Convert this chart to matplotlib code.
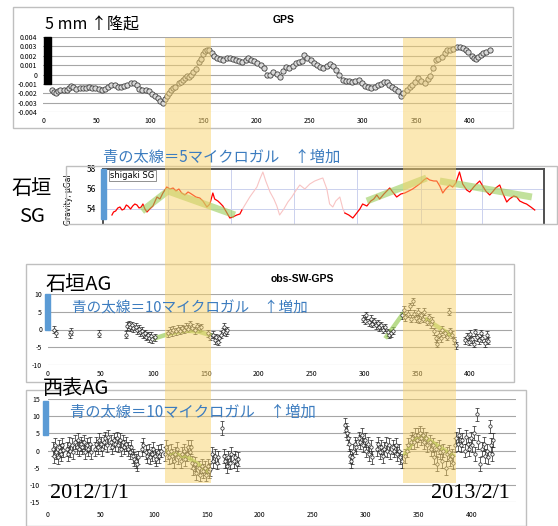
import numpy as np
import matplotlib

matplotlib.use("Agg")
import matplotlib.pyplot as plt  # noqa: E402
from matplotlib import transforms  # noqa: E402
from matplotlib.patches import Rectangle  # noqa: E402

plt.rcParams["font.family"] = ["Noto Sans CJK JP", "DejaVu Sans"]
plt.rcParams["axes.unicode_minus"] = False

# ---- data (x = days since 2012/1/1) ----
gps_day = [8, 10, 12, 14, 16, 19, 22, 24, 26, 28, 31, 34, 37, 40, 43, 46, 49, 52, 55, 58,
           61, 64, 67, 70, 73, 76, 79, 82, 85, 88, 90, 93, 96, 99, 102, 105, 108, 110, 112, 114,
           116, 118, 120, 122, 124, 127, 129, 131, 133, 135, 137, 139, 141, 143, 146, 148, 150, 152, 154, 156,
           158, 160, 163, 166, 169, 172, 175, 178, 181, 184, 187, 190, 192, 195, 198, 201, 204, 207, 210, 213,
           216, 219, 222, 225, 228, 231, 234, 237, 240, 243, 245, 248, 251, 254, 257, 260, 263, 266, 269, 272,
           275, 278, 281, 284, 287, 290, 293, 296, 299, 302, 305, 308, 311, 314, 317, 320, 323, 325, 327, 330,
           333, 336, 338, 341, 344, 346, 349, 352, 355, 358, 361, 363, 366, 369, 371, 374, 377, 379, 382, 385,
           388, 391, 394, 397, 399, 402, 404, 406, 408, 411, 413, 416, 419]
gps_mm = [-1.6, -1.9, -2.0, -1.8, -1.7, -1.65, -1.6, -1.45, -1.25, -1.35, -1.5, -1.45, -1.4, -1.4, -1.35, -1.4, -1.45, -1.55, -1.6, -1.5,
          -1.35, -1.1, -1.15, -1.3, -1.35, -1.25, -1.1, -0.9, -0.95, -1.1, -1.5, -1.65, -1.7, -1.8, -2.1, -2.3, -2.55, -2.8, -3.05, -2.6,
          -2.3, -2.0, -1.7, -1.4, -1.3, -0.95, -0.8, -0.6, -0.35, -0.2, -0.3, 0.0, 0.3, 0.55, 1.3, 1.7, 2.2, 2.5, 2.65, 2.6,
          2.3, 2.0, 1.8, 1.7, 1.6, 1.75, 1.8, 1.7, 1.6, 1.45, 1.3, 1.5, 1.75, 1.6, 1.45, 1.2, 1.0, 0.7, 0.0, -0.1,
          0.3, 0.1, -0.25, 0.4, 0.8, 0.65, 0.9, 1.2, 1.3, 1.4, 2.05, 1.8, 1.6, 1.2, 1.0, 0.8, 0.65, 0.9, 1.1, 0.9,
          0.5, 0.0, -0.55, -0.65, -0.7, -0.8, -0.7, -0.6, -0.95, -1.2, -1.3, -1.45, -1.35, -1.1, -1.0, -0.85, -0.75, -1.1, -1.35, -1.5,
          -1.75, -2.3, -2.0, -1.65, -1.3, -1.1, -0.8, -0.4, -0.7, -0.95, -0.5, -0.15, 0.65, 1.5, 1.7, 1.9, 2.3, 2.6, 2.65, 2.75,
          2.9, 2.95, 2.8, 2.6, 2.45, 2.0, 1.75, 1.7, 1.85, 2.1, 2.25, 2.45, 2.6]
gps_yticks = [0.004, 0.003, 0.002, 0.001, 0, -0.001, -0.002, -0.003, -0.004]
gps_yticklabels = ["0.004", "0.003", "0.002", "0.001", "0", "-0.001", "-0.002", "-0.003", "-0.004"]

sg_day1 = [64.5, 66, 68, 70, 72, 74, 76, 78, 79.5, 82, 84, 86, 88, 90, 92, 93.6, 95.5, 97.4, 100, 103,
           106.8, 109.6, 112.4, 116, 119, 122, 124.6, 127.4, 130, 133, 136, 137.7, 140.6, 143.4, 147, 150, 153.7, 156.5, 159.3, 161,
           164, 166, 168.7, 171.5, 175.3, 178, 181.8, 184.7, 186.6]
sg_val1 = [53.4, 53.7, 53.8, 54.1, 54.2, 53.9, 54.0, 54.4, 54.3, 54.0, 54.3, 54.5, 54.4, 54.1, 54.2, 54.5, 54.0, 53.7, 54.0, 54.3,
           55.2, 55.0, 55.6, 56.2, 56.0, 56.1, 55.8, 56.0, 55.6, 55.4, 55.7, 55.6, 55.4, 55.2, 55.1, 54.8, 54.2, 54.5, 55.6, 55.0,
           54.8, 54.6, 54.3, 53.8, 53.1, 53.2, 53.4, 53.5, 53.9]
sg_day_faint = [186.6, 190, 194, 198, 200.7, 203.5, 206.3, 209, 213, 216.6, 219.4, 222, 226, 229.8, 233.5, 237, 241, 245.7, 250.4, 255,
                259.8, 262.6, 266.4, 269, 272, 274.8, 278.6, 281.5, 283.3]
sg_val_faint = [53.9, 54.5, 55.2, 55.8, 56.2, 57.0, 57.7, 56.8, 55.7, 55.0, 54.3, 53.4, 54.0, 54.7, 55.2, 55.8, 56.4, 56.0, 56.5, 56.8,
                57.0, 57.1, 56.0, 54.5, 54.2, 54.8, 55.2, 54.0, 53.6]
sg_day2 = [283.3, 287, 290.8, 294.5, 297.4, 300, 304, 307.7, 310.5, 313.3, 316, 320, 322.7, 325.5, 329, 332, 335.9, 339.6, 343.4, 347,
           350.9, 354.7, 357.5, 360.3, 363, 366.8, 369.6, 372.5, 375.3, 378, 381.8, 384.6, 387.5, 391, 394, 397.8, 400.6, 404.4, 407, 410,
           412.8, 415.7, 419.4, 422, 425, 428.8, 431.6, 435.4, 438, 442, 444.8, 447.6, 451.4, 454, 458, 461.7]
sg_val2 = [53.6, 53.4, 53.1, 53.6, 54.0, 54.5, 54.3, 54.8, 55.0, 55.4, 55.0, 55.5, 55.8, 56.1, 55.6, 55.2, 55.5, 55.6, 55.8, 56.0,
           56.3, 56.6, 56.9, 57.1, 56.9, 56.8, 56.8, 56.3, 55.6, 56.0, 56.4, 56.2, 56.6, 57.7, 56.5, 55.9, 55.7, 56.2, 56.5, 56.8,
           56.3, 55.8, 55.4, 55.7, 56.1, 56.4, 55.6, 54.7, 55.0, 55.3, 55.2, 54.8, 54.6, 54.5, 54.2, 53.9]
sg_trend = [([92.7, 117, 180], [53.8, 55.8, 53.4]),
            ([304, 360], [54.8, 57.1]),
            ([372.5, 459], [56.8, 55.2])]
sg_grid_days = [117, 176, 236, 295, 355, 412]

ishi_day = [6, 8, 21, 22, 48,
            74, 75, 77, 78, 80, 81, 83, 84, 86, 87, 89, 90, 92, 93, 95, 96, 98, 99, 101,
            114, 116, 118, 119, 121, 123, 125, 127, 129, 131, 133, 135, 137, 139, 141, 143, 145,
            152, 154, 156, 158, 159, 161, 162, 164, 166, 167, 169, 170,
            299, 301, 302, 304, 306, 307, 309, 311, 313, 314, 316, 318, 320, 322, 323, 325, 327,
            336, 338, 339, 341, 343, 344, 346, 347, 349, 351, 352, 354, 356, 357, 359, 361, 363, 364,
            366, 368, 369, 371, 373, 374, 376, 378, 380, 381, 383, 385, 387,
            395, 397, 399, 400, 402, 404, 405, 407, 409, 411, 412, 414, 416, 417]
ishi_val = [0.0, -1.0, -1.4, -0.6, -1.2,
            -1.5, 1.0, 1.5, 0.6, 1.2, 0.3, 0.8, -0.2, 0.2, -0.8, -0.3, -1.4, -1.0, -2.0, -1.6, -2.4, -1.8, -2.8, -2.2,
            -1.0, -0.3, -0.8, 0.0, -0.5, 0.2, -0.3, 0.4, 0.0, 0.8, 0.2, 1.5, 0.5, -0.2, 0.9, 0.3, 0.6,
            -1.0, -2.0, -1.5, -3.0, -2.2, -3.5, -2.5, -1.5, -0.5, 0.8, -0.8, -0.2,
            3.0, 2.5, 4.0, 2.0, 3.0, 1.6, 2.3, 1.2, 1.8, 0.6, 1.2, 0.0, 0.6, -0.8, -1.5, -1.0, -0.4,
            4.0, 5.5, 3.5, 4.5, 6.5, 3.0, 8.0, 4.5, 3.2, 5.0, 2.8, 4.0, 3.0, 5.0, 2.2, 3.5, 1.5, 2.5,
            -0.5, -2.5, -4.0, -1.5, -2.5, 0.0, -1.0, -2.0, 5.0, -0.5, -1.5, -3.0, -4.5,
            -3.0, -2.0, -3.5, -1.2, -2.8, -4.0, -0.8, -2.2, -3.0, -1.0, -2.5, -3.8, -1.5, -3.2]
ishi_err = 1.0
ishi_trend = [([101, 115, 130, 143, 154], [-2.5, -1.2, -0.3, -0.6, -1.6]),
              ([321, 336], [-2.0, 4.2]),
              ([359, 381], [2.8, -1.4])]

iri_day = [5, 6, 7, 8, 9, 10, 11, 12, 13, 14,
           18, 19, 20, 21, 23, 24, 25, 27, 28, 29, 31, 32, 34, 35, 37, 38, 40, 41,
           44, 45, 47, 48, 50, 51, 53, 54, 56, 57, 59, 60, 62, 63, 65, 66, 68, 69, 71, 72, 74,
           75, 77, 78, 80, 81, 83, 84, 85,
           89, 90, 92, 93, 95, 96, 98, 99, 101, 102, 104, 105, 107,
           110, 111, 113, 114, 116, 117, 119, 120, 122, 123, 125, 126, 128, 129, 131, 132, 134, 135,
           136, 137, 139, 140, 142, 143, 145, 146, 148, 149, 151, 152, 153,
           155, 156, 158, 159, 160, 164,
           166, 167, 169, 170, 172, 173, 175, 176, 178, 179,
           280, 281, 282, 283, 284, 285, 286, 287,
           288, 290, 291, 293, 294, 296, 297, 299, 300, 302, 303, 305, 306,
           310, 311, 313, 314, 316, 317, 319, 320, 322, 323, 325, 326, 328, 329, 331, 332, 334,
           337, 339, 340, 342, 343, 345, 346, 348, 349, 351, 352, 354, 355, 357, 358, 360, 361, 363,
           364, 366, 367, 369, 370, 372, 373, 375, 376, 378, 379, 381, 382,
           384, 385, 387, 388, 390, 391, 393, 394, 396, 397, 399, 400, 402, 403, 405, 406, 408, 409,
           411, 412, 414, 415, 417, 418, 419, 420]
iri_val = [0.5, -1.5, 1.5, -0.5, -2.0, 1.0, 0.0, -1.0, 1.5, 0.2,
           0.5, -1.0, 2.0, 0.0, 1.5, -0.5, 2.5, 1.0, 3.0, 0.5, 2.0, 1.0, 2.5, -0.5, 1.5, 0.5, 2.0, -0.5,
           0.5, 2.0, 1.0, 3.0, 2.0, 0.5, 2.5, 3.5, 1.5, 4.0, 2.5, 1.0, 3.0, 2.0, 3.5, 1.5, 3.0, 0.5, 2.5, 1.0, 2.0,
           0.5, -0.5, 1.0, -1.5, -2.5, -3.0, -4.0, -2.0,
           0.5, 1.5, -0.5, -1.5, 0.0, -2.0, -1.0, 0.5, -1.5, -2.5, -0.5, -1.5, 0.0,
           -1.0, 1.0, -0.5, -2.0, 0.0, -1.5, -3.0, -1.0, 0.5, -2.0, -3.0, -1.0, 0.0, -2.5, -1.0, 1.0, -0.5, 1.0,
           -3.5, -5.0, -4.0, -6.5, -5.0, -7.0, -4.5, -6.0, -5.0, -7.0, -4.5, -6.0, -5.5,
           -1.0, -3.0, -1.5, -3.5, -2.0, 6.5,
           -1.5, -3.0, -4.5, -2.0, -3.5, -1.0, -3.0, -2.0, -4.0, -2.5,
           7.5, 6.0, 5.0, 3.5, 2.0, -1.5, -3.0, -2.0,
           0.0, 2.0, 1.0, 3.5, 2.5, 4.5, 1.5, 3.0, 0.0, 2.0, -1.0, 1.0, -2.0,
           0.5, 2.0, -0.5, 1.0, -1.5, 0.5, 2.0, 0.0, 1.5, -0.5, 1.0, 0.0, 1.5, -1.0, 0.0, -2.0, -3.0,
           -1.5, 0.0, 1.5, 2.5, 3.5, 2.5, 4.5, 3.0, 4.5, 5.0, 3.5, 4.5, 2.5, 3.5, 1.5, 2.5, 0.5, 1.5,
           -2.0, 0.5, -4.0, 1.0, -0.5, -3.0, 0.0, -5.0, -1.0, -0.5, -2.5, -1.5, -3.5,
           1.5, 3.5, 2.0, 4.5, 1.5, 3.0, 0.0, 4.0, 2.0, 0.5, 3.5, 1.5, 5.0, -1.0, 10.5, 2.5, -4.0, 0.5,
           2.0, -1.5, 0.0, -2.0, 7.0, 1.5, -1.0, 3.0]
iri_err = 2.0
iri_trend = [([113, 132, 151], [-0.6, -2.0, -6.0]),
             ([337, 344, 352, 362, 372, 382], [-1.0, 2.5, 4.5, 2.5, 0.5, -1.5])]

band_periods = [(114.3, 157.5), (337.7, 387.5)]

W, H = 558, 526
BLUE_TXT = "#3C7CBF"
BAR_BLUE = "#5B9BD5"
GREEN = "#9ACD5A"
GRID = "#A6A6A6"


def fx(x):
    return x / W


def fy(y):
    return 1 - y / H


def px_box(left, top, right, bottom):
    return [left / W, 1 - bottom / H, (right - left) / W, (bottom - top) / H]


fig = plt.figure(figsize=(W / 100, H / 100), dpi=100)

# light outer frames of the pasted panels
for l, t, r, b in [(13, 7, 513, 128), (66, 166, 557, 224), (26, 264, 514, 382), (26, 390, 526, 526)]:
    fig.add_artist(Rectangle((fx(l), fy(b)), (r - l) / W, (b - t) / H, transform=fig.transFigure,
                             fill=False, ec="#BFBFBF", lw=1))

# --- GPS ---
ax1 = fig.add_axes(px_box(43.3, 37, 512, 112))
ax1.set_facecolor("none")
ax1.set_xlim(0, 440)
ax1.set_ylim(-0.004, 0.004)
ax1.set_yticks(gps_yticks)
ax1.set_yticklabels(gps_yticklabels)
ax1.set_xticks(range(0, 401, 50))
ax1.grid(axis="y", color=GRID, lw=0.8)
for s in ax1.spines.values():
    s.set_visible(False)
ax1.tick_params(axis="y", length=0, labelsize=5, pad=4.3)
ax1.tick_params(axis="x", length=0, labelsize=5, pad=3.6)
ax1.plot(gps_day, np.array(gps_mm) / 1000, "-", color="#8C8C8C", lw=0.5)
ax1.plot(gps_day, np.array(gps_mm) / 1000, "o", ms=3.8, mfc="#D9D9D9", mec="#3F3F3F", mew=0.6)
ax1.add_patch(Rectangle((0.7, -0.001), 6.5, 0.005, color="black", clip_on=False, zorder=3))

# --- SG ---
ax2 = fig.add_axes(px_box(103, 169, 544, 224))
ax2.set_facecolor("none")
ax2.set_xlim(56.1, 470.4)
ax2.set_ylim(52.5, 58)
ax2.set_yticks([54, 56, 58])
ax2.set_xticks(sg_grid_days)
ax2.set_xticklabels([])
ax2.grid(True, color="#CBD1EE", lw=0.7)
ax2.tick_params(length=0, labelsize=6, pad=5)
for k in ["top", "right", "left"]:
    ax2.spines[k].set_color("#505050")
    ax2.spines[k].set_linewidth(1.4)
ax2.spines["bottom"].set_color("#BFBFBF")
ax2.set_ylabel("Gravity, μGal", fontsize=5.5, family=["DejaVu Sans"])
ax2.yaxis.set_label_coords(-0.068, 0.45)
ax2.plot(sg_day_faint, sg_val_faint, color="#F8C4C4", lw=0.8)
ax2.plot(sg_day1, sg_val1, color="#FF0000", lw=0.9)
ax2.plot(sg_day2, sg_val2, color="#FF0000", lw=0.9)
for xs, ys in sg_trend:
    ax2.plot(xs, ys, color=GREEN, lw=5, alpha=0.6, solid_capstyle="butt")
ax2.add_patch(Rectangle((54.2, 53.0), 4.7, 5.0, color=BAR_BLUE, clip_on=False, zorder=4))
ax2.text(0.016, 0.96, "shigaki SG", transform=ax2.transAxes, fontsize=6, va="top", ha="left",
         family=["DejaVu Sans"],
         bbox=dict(boxstyle="square,pad=0.15", fc="white", ec="#808080", lw=0.6))


def ag_axes(box, xmax, ylim, yticks, xpad, ypad):
    ax = fig.add_axes(box)
    ax.set_facecolor("none")
    ax.set_xlim(0, xmax)
    ax.set_ylim(*ylim)
    ax.set_yticks(yticks)
    ax.set_xticks(range(0, 401, 50))
    ax.grid(axis="y", color=GRID, lw=0.8)
    for s in ax.spines.values():
        s.set_visible(False)
    ax.tick_params(axis="y", length=0, labelsize=5, pad=ypad)
    ax.tick_params(axis="x", length=0, labelsize=5, pad=xpad)
    return ax


eb_style = dict(fmt="o", ms=2.4, mfc="white", mec="#202020", mew=0.5, ecolor="#202020",
                elinewidth=0.5, capsize=1.2, capthick=0.5)

# --- Ishigaki AG ---
ax3 = ag_axes(px_box(48, 294, 512, 365), 440, (-10, 10), [-10, -5, 0, 5, 10], 3.6, 4.3)
ax3.errorbar(ishi_day, ishi_val, yerr=ishi_err, **eb_style)
for xs, ys in ishi_trend:
    ax3.plot(xs, ys, color=GREEN, lw=3.2, alpha=0.7)
ax3.add_patch(Rectangle((-2.8, 0), 4.7, 10, color=BAR_BLUE, clip_on=False, zorder=3))

# --- Iriomote AG ---
ax4 = ag_axes(px_box(48, 399, 516, 502), 441.5, (-15, 15), [-15, -10, -5, 0, 5, 10, 15], 6.5, 5.8)
ax4.errorbar(iri_day, iri_val, yerr=iri_err, **eb_style)
for xs, ys in iri_trend:
    ax4.plot(xs, ys, color=GREEN, lw=3.0, alpha=0.8)
ax4.add_patch(Rectangle((-4.7, 4.5), 4.7, 10, color=BAR_BLUE, clip_on=False, zorder=3))

# highlighted periods, drawn across all panels
band_tr = transforms.blended_transform_factory(ax1.transData, fig.transFigure)
for d0, d1 in band_periods:
    fig.add_artist(Rectangle((d0, fy(483)), d1 - d0, fy(38) - fy(483), transform=band_tr,
                             color="#F9D26A", alpha=0.5, lw=0, zorder=5))

# --- labels ---
tx = dict(zorder=10, va="center")
fig.text(fx(45), fy(25), "5 mm ↑隆起", fontsize=11.5, ha="left", **tx)
fig.text(fx(284), fy(20), "GPS", fontsize=7.5, fontweight="bold", ha="center",
         family=["Liberation Sans"], **tx)
fig.text(fx(32), fy(189), "石垣", fontsize=14.5, ha="center", **tx)
fig.text(fx(32), fy(216), "SG", fontsize=14.5, ha="center", **tx)
fig.text(fx(103), fy(157), "青の太線＝5マイクロガル　↑増加", fontsize=11, color=BLUE_TXT, ha="left", **tx)
fig.text(fx(45), fy(284), "石垣AG", fontsize=14.5, ha="left", **tx)
fig.text(fx(302), fy(279), "obs-SW-GPS", fontsize=7.5, fontweight="bold", ha="center",
         family=["Liberation Sans"], **tx)
fig.text(fx(72), fy(308), "青の太線＝10マイクロガル　↑増加", fontsize=10.5, color=BLUE_TXT, ha="left", **tx)
fig.text(fx(43), fy(389), "西表AG", fontsize=14.5, ha="left", **tx)
fig.text(fx(70), fy(412), "青の太線＝10マイクロガル　↑増加", fontsize=11, color=BLUE_TXT, ha="left", **tx)
date_font = ["Liberation Serif", "Noto Sans CJK JP"]
fig.text(fx(50), fy(494), "2012/1/1", fontsize=16, ha="left", family=date_font, **tx)
fig.text(fx(510), fy(494), "2013/2/1", fontsize=16, ha="right", family=date_font, **tx)

fig.savefig("out.png", dpi=100, facecolor="white")
plt.close(fig)
